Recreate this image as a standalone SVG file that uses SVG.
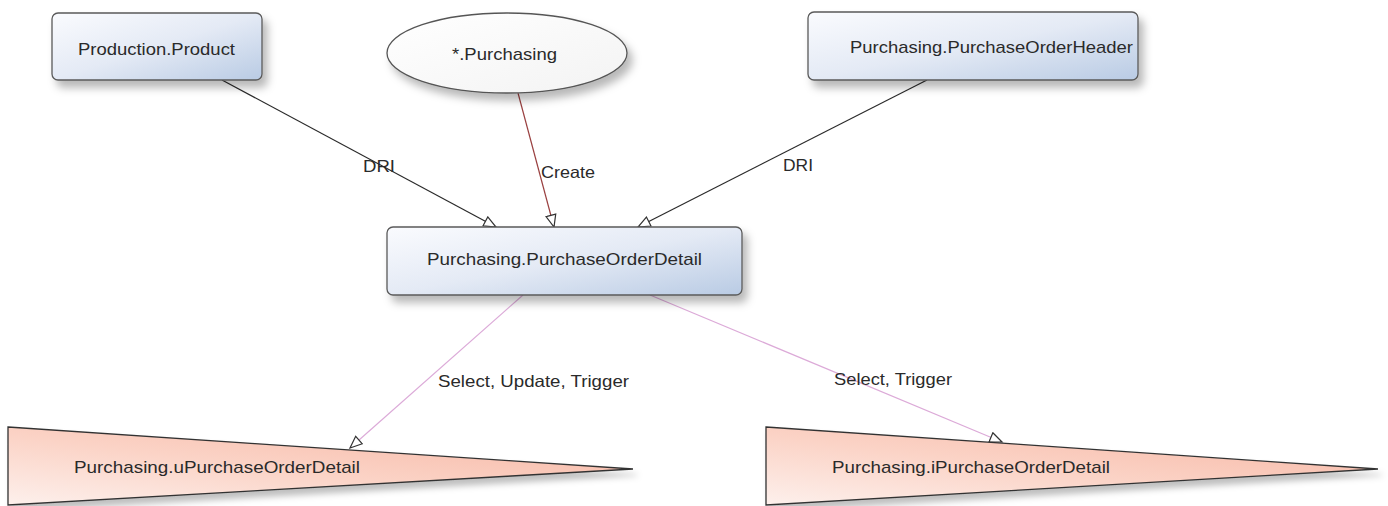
<svg xmlns="http://www.w3.org/2000/svg" width="1388" height="506" viewBox="0 0 1388 506">
<style>
text{font-family:"Liberation Sans",Arial,sans-serif;fill:#2a2a2a;}
.n{font-size:17px;}
.l{font-size:16.5px;}
.box{fill:url(#gBox);stroke:#5a5a5a;stroke-width:1.3;filter:url(#sh);}
.tri{fill:url(#gTri);stroke:#333;stroke-width:1.3;filter:url(#sh2);}
.dri{stroke:#2a2a2a;stroke-width:1.2;fill:none;marker-end:url(#ah);}
.cre{stroke:#9a4040;stroke-width:1.2;fill:none;marker-end:url(#ah);}
.sel{stroke:#dcaad8;stroke-width:1.2;fill:none;marker-end:url(#ah);}
</style>
<defs>
<linearGradient id="gBox" x1="0" y1="0" x2="1" y2="1">
<stop offset="0" stop-color="#fafbfe"/>
<stop offset="0.5" stop-color="#e4eaf5"/>
<stop offset="1" stop-color="#b9cbe4"/>
</linearGradient>
<linearGradient id="gEll" x1="0" y1="0" x2="1" y2="1">
<stop offset="0" stop-color="#ffffff"/>
<stop offset="1" stop-color="#f3f3f3"/>
</linearGradient>
<linearGradient id="gTri" x1="0" y1="1" x2="1" y2="0">
<stop offset="0" stop-color="#fdf0ec"/>
<stop offset="0.45" stop-color="#fbd3c6"/>
<stop offset="1" stop-color="#f6b3a0"/>
</linearGradient>
<filter id="sh" x="-10%" y="-20%" width="130%" height="160%">
<feDropShadow dx="5" dy="7" stdDeviation="4" flood-color="#000" flood-opacity="0.28"/>
</filter>
<filter id="sh2" x="-5%" y="-20%" width="115%" height="160%">
<feDropShadow dx="4" dy="6" stdDeviation="3" flood-color="#000" flood-opacity="0.25"/>
</filter>
<marker id="ah" markerUnits="userSpaceOnUse" markerWidth="16" markerHeight="14" refX="13" refY="6" orient="auto">
<path d="M1,1 L13,6 L1,11 Z" fill="#fff" stroke="#333" stroke-width="1.2"/>
</marker>
</defs>

<g id="connectors">
<line class="dri" x1="222" y1="80" x2="496" y2="227"/>
<line class="cre" x1="518" y1="93" x2="554" y2="227"/>
<line class="dri" x1="927" y1="80" x2="638" y2="227"/>
<line class="sel" x1="523" y1="295" x2="350" y2="448"/>
<line class="sel" x1="650" y1="295" x2="1002" y2="442"/>
<text class="l" x="363" y="172" textLength="32" lengthAdjust="spacingAndGlyphs">DRI</text>
<text class="l" x="541" y="178" textLength="54" lengthAdjust="spacingAndGlyphs">Create</text>
<text class="l" x="783" y="171" textLength="30" lengthAdjust="spacingAndGlyphs">DRI</text>
<text class="l" x="438" y="387" textLength="191" lengthAdjust="spacingAndGlyphs">Select, Update, Trigger</text>
<text class="l" x="834" y="385" textLength="118" lengthAdjust="spacingAndGlyphs">Select, Trigger</text>
</g>

<g id="node-production-product">
<rect class="box" x="52" y="13" width="210" height="67" rx="6"/>
<text class="n" x="78" y="55" textLength="157" lengthAdjust="spacingAndGlyphs">Production.Product</text>
</g>

<g id="node-purchasing-schema">
<ellipse cx="507" cy="53" rx="120" ry="40" fill="url(#gEll)" stroke="#555" stroke-width="1.3" filter="url(#sh)"/>
<text class="n" x="452" y="60" textLength="105" lengthAdjust="spacingAndGlyphs">*.Purchasing</text>
</g>

<g id="node-purchase-order-header">
<rect class="box" x="808" y="12" width="330" height="68" rx="6"/>
<text class="n" x="850" y="53" textLength="283" lengthAdjust="spacingAndGlyphs">Purchasing.PurchaseOrderHeader</text>
</g>

<g id="node-purchase-order-detail">
<rect class="box" x="387" y="227" width="355" height="68" rx="6"/>
<text class="n" x="427" y="265" textLength="275" lengthAdjust="spacingAndGlyphs">Purchasing.PurchaseOrderDetail</text>
</g>

<g id="node-u-purchase-order-detail">
<polygon class="tri" points="8,427 633,469 8,505"/>
<text class="n" x="74" y="473" textLength="286" lengthAdjust="spacingAndGlyphs">Purchasing.uPurchaseOrderDetail</text>
</g>

<g id="node-i-purchase-order-detail">
<polygon class="tri" points="766,427 1378,469 766,505"/>
<text class="n" x="832" y="473" textLength="278" lengthAdjust="spacingAndGlyphs">Purchasing.iPurchaseOrderDetail</text>
</g>
</svg>
